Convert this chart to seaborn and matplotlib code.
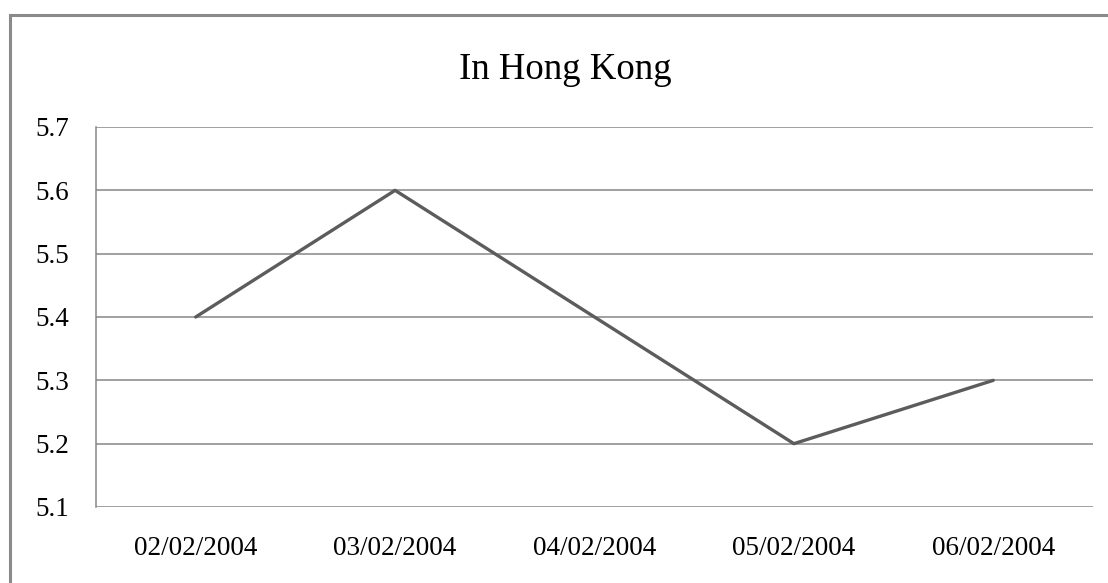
import matplotlib
matplotlib.use("Agg")
import matplotlib.pyplot as plt
import seaborn as sns
import pandas as pd
from matplotlib.patches import Rectangle

dates = ["02/02/2004", "03/02/2004", "04/02/2004", "05/02/2004", "06/02/2004"]
values = [5.4, 5.6, 5.4, 5.2, 5.3]
yticks = [5.1, 5.2, 5.3, 5.4, 5.5, 5.6, 5.7]

sns.set_style("white")
plt.rcParams["font.family"] = ["Liberation Serif", "DejaVu Serif"]
plt.rcParams["text.color"] = "black"
plt.rcParams["xtick.color"] = "black"
plt.rcParams["ytick.color"] = "black"

df = pd.DataFrame({"date": dates, "value": values})

fig = plt.figure(figsize=(11.08, 5.83), dpi=100)
ax = fig.add_axes([96/1108, 1 - 507/583, (1093 - 96)/1108, (507 - 127)/583])

pos = list(range(len(dates)))
df["pos"] = pos
sns.lineplot(data=df, x="pos", y="value", ax=ax, color="#5c5c5c", linewidth=2.4, sort=False)

ax.set_xlim(-0.5, len(dates) - 0.5)
ax.set_ylim(5.1, 5.7)
ax.set_yticks(yticks)
ax.set_yticklabels([f"{v:.1f}" for v in yticks], fontsize=19.5)
ax.set_xticks(pos)
ax.set_xticklabels(dates, fontsize=19.5)
ax.tick_params(axis="both", length=0, colors="black")
ax.tick_params(axis="y", pad=19)
ax.tick_params(axis="x", pad=21)
ax.set_xlabel("")
ax.set_ylabel("")
ax.grid(axis="y", color="#868686", linewidth=1.1)
ax.set_axisbelow(True)
for s in ["top", "right", "bottom"]:
    ax.spines[s].set_visible(False)
ax.spines["left"].set_color("#868686")
ax.spines["left"].set_linewidth(1.1)

fig.text(565/1108, 1 - 70/583, "In Hong Kong", ha="center", va="center", fontsize=26.5, color="black")

fig.patches.append(Rectangle((10/1108, -0.05), 1.2, 1 - 15/583 + 0.05, transform=fig.transFigure,
                             fill=False, edgecolor="#8a8a8a", linewidth=2.2))

fig.savefig("out.png", dpi=100)
